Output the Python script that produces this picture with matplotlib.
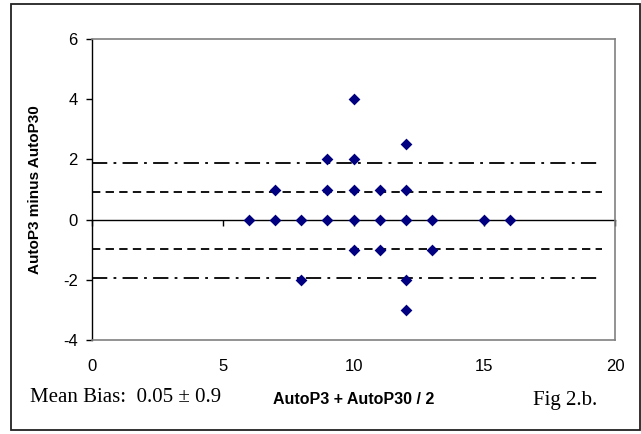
import matplotlib
matplotlib.use("Agg")
import matplotlib.pyplot as plt
from matplotlib.patches import Rectangle

# Bland-Altman points: mean of methods vs difference
mean_x = [6, 7, 8, 9, 10, 11, 12, 13, 15, 16,
          7, 9, 10, 11, 12,
          9, 10, 10, 12,
          10, 11, 13,
          8, 12, 12]
diff_y = [0, 0, 0, 0, 0, 0, 0, 0, 0, 0,
          1, 1, 1, 1, 1,
          2, 2, 4, 2.5,
          -1, -1, -1,
          -2, -2, -3]

# limit lines (x extent and levels)
line_x = [0, 19.5]
sd1_levels = [0.93, -0.97]
sd2_levels = [1.87, -1.94]

x_ticks = [0, 5, 10, 15, 20]
y_ticks = [-4, -2, 0, 2, 4, 6]

plt.rcParams['font.family'] = ['Liberation Sans', 'DejaVu Sans']
plt.rcParams['lines.scale_dashes'] = False
plt.rcParams['axes.unicode_minus'] = False

fig = plt.figure(figsize=(6.41, 4.34), dpi=100)
ax = fig.add_axes([92/641, 1-340/434, 523/641, 301/434])

for lv in sd2_levels:
    ax.plot(line_x, [lv, lv], color='black', lw=1.3, dashes=(11, 4.5, 2, 4.5))
for lv in sd1_levels:
    ax.plot(line_x, [lv, lv], color='black', lw=1.3, dashes=(6, 3.8))

ax.scatter(mean_x, diff_y, marker='D', s=36, color='#000080', zorder=5, linewidths=0)

ax.set_xlim(0, 20)
ax.set_ylim(-4, 6)
ax.set_xticks(x_ticks)
ax.set_yticks(y_ticks)

for side in ['top', 'right', 'bottom']:
    ax.spines[side].set_color('#808080')
    ax.spines[side].set_linewidth(1.2)
ax.spines['left'].set_color('black')
ax.spines['left'].set_linewidth(1.0)

ax.tick_params(axis='x', length=0, pad=14, labelsize=12)
ax.tick_params(axis='y', length=4.3, width=1.0, pad=6, labelsize=12, direction='out')

# horizontal axis crossing at zero with its tick marks
zero_ax = ax.secondary_xaxis(0.4)
zero_ax.set_xticks(x_ticks)
zero_ax.tick_params(axis='x', length=4, width=1.0, labelbottom=False, labeltop=False,
                    direction='out')
zero_ax.spines['bottom'].set_color('black')
zero_ax.spines['bottom'].set_linewidth(1.0)
zero_ax.spines['top'].set_color('black')
zero_ax.spines['top'].set_linewidth(1.0)

ax.set_xlabel('AutoP3 + AutoP30 / 2', fontsize=11.5, fontweight='bold', va='center')
ax.xaxis.set_label_coords(0.5, (340-400)/301)
ax.set_ylabel('AutoP3 minus AutoP30', fontsize=11, fontweight='bold', va='center')
ax.yaxis.set_label_coords((35-92)/523, 0.5)

fig.text(30/641, 1-398/434, 'Mean Bias:  0.05 \u00b1 0.9', family='Liberation Serif',
         fontsize=15, va='center', ha='left')
fig.text(533/641, 1-401/434, 'Fig 2.b.', family='Liberation Serif',
         fontsize=15, va='center', ha='left')

fig.patches.append(Rectangle((11/641, 1-430/434), 629/641, 426/434,
                             transform=fig.transFigure, fill=False,
                             edgecolor='#222222', linewidth=1.3))

fig.savefig('out.png', dpi=100)
